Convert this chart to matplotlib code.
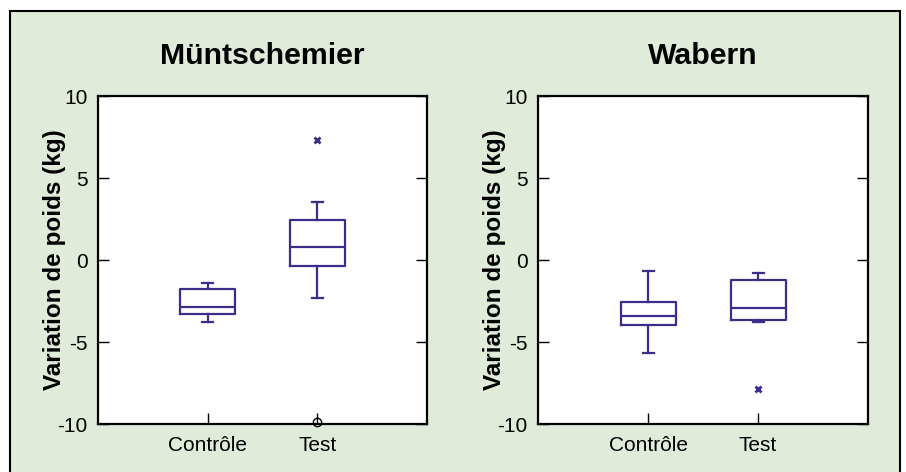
import matplotlib.pyplot as plt
from matplotlib.patches import Rectangle

plt.rcParams['font.family'] = ['Liberation Sans', 'DejaVu Sans']

# Data (kg)
groups = ['Contrôle', 'Test']
sites = ['Müntschemier', 'Wabern']

# whisker low, Q1, median, Q3, whisker high
muent_ctrl = [-3.78, -3.29, -2.85, -1.79, -1.38]
muent_test = [-2.30, -0.37, 0.81, 2.44, 3.52]
wab_ctrl = [-5.69, -3.98, -3.40, -2.58, -0.69]
wab_test = [-3.76, -3.68, -2.95, -1.20, -0.79]

# outliers: (group index, value, marker)
muent_out = [(1, 7.32, 'x'), (1, -9.86, 'o')]
wab_out = [(1, -7.89, 'x')]

box_color = '#3b2d8a'
bg_color = '#e1ebda'


def stats(vals, label):
    lo, q1, med, q3, hi = vals
    return dict(whislo=lo, q1=q1, med=med, q3=q3, whishi=hi, fliers=[], label=label)


fig = plt.figure(figsize=(9.06, 4.72), dpi=100)
fig.patch.set_facecolor('white')
fig.add_artist(Rectangle((10 / 906, -0.1), 890 / 906, 1.1 - 11 / 472,
                         transform=fig.transFigure, facecolor=bg_color,
                         edgecolor='black', linewidth=1.5, zorder=-10))

W, H = 906, 472
ax_boxes = [(98, 96, 329, 328), (538, 96, 330, 328)]
panel_data = [(muent_ctrl, muent_test, muent_out), (wab_ctrl, wab_test, wab_out)]

for (x0, y0, w, h), site, (ctrl, test, outs) in zip(ax_boxes, sites, panel_data):
    ax = fig.add_axes([x0 / W, 1 - (y0 + h) / H, w / W, h / H])
    ax.set_facecolor('white')
    props = dict(color=box_color, linewidth=1.6)
    ax.bxp([stats(ctrl, groups[0]), stats(test, groups[1])], positions=[1, 2],
           widths=0.5, showfliers=False,
           boxprops=props, whiskerprops=props, capprops=props, medianprops=props,
           capwidths=0.1)
    for gi, v, m in outs:
        if m == 'o':
            ax.plot(gi + 1, v, marker='o', mfc='none', mec='black', ms=6, mew=1.0,
                    clip_on=False, zorder=5)
        else:
            ax.plot(gi + 1, v, marker='x', color=box_color, ms=4.5, mew=2.0, zorder=5)

    ax.set_xlim(0, 3)
    ax.set_ylim(-10, 10)
    ax.set_yticks([-10, -5, 0, 5, 10])
    ax.set_yticklabels(['-10', '-5', '0', '5', '10'])
    ax.set_xticks([1, 2])
    ax.set_xticklabels(groups)
    ax.tick_params(axis='y', direction='in', length=8, width=1, right=True,
                   labelsize=15, pad=7.5)
    ax.tick_params(axis='x', direction='in', length=8, width=1,
                   labelsize=15, pad=8.5)
    for s in ax.spines.values():
        s.set_linewidth(1.6)
    ax.set_ylabel('Variation de poids (kg)', fontsize=17.5, fontweight='bold')
    ax.yaxis.set_label_coords(-0.097, 0.5)
    ax.set_title(site, fontsize=21.8, fontweight='bold', pad=23)

fig.savefig('out.png', dpi=100, facecolor=fig.get_facecolor())
